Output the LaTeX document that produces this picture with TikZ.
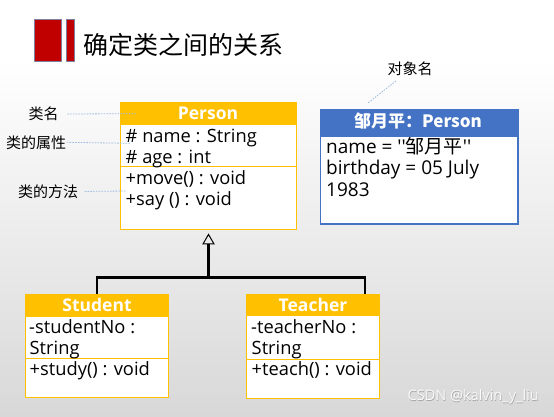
\documentclass[tikz,border=0pt]{standalone}
\usepackage{fontspec}
\newfontfamily\osans{Open Sans}
\newfontfamily\cjk{Noto Sans CJK SC}
\usetikzlibrary{arrows.meta}
\definecolor{umlY}{HTML}{FFC000}
\definecolor{objB}{HTML}{4472C4}
\definecolor{iconR}{HTML}{C00000}
\definecolor{iconE}{HTML}{7F7F9F}
\definecolor{guideB}{HTML}{9DBCE0}
\definecolor{bgBot}{HTML}{D8D8D8}
\tikzset{
  hdr/.style={rectangle, fill=umlY, draw=umlY, line width=1pt, text=white, inner sep=0pt,
    font=\osans\bfseries\fontsize{17.5}{20}\selectfont},
  body/.style={rectangle, draw=umlY, fill=white, line width=1pt, inner sep=0pt},
  txt/.style={anchor=base west, inner sep=0pt, font=\osans\fontsize{18.3}{21}\selectfont},
  lbl/.style={inner sep=0pt, font=\cjk\fontsize{15}{18}\selectfont},
  guide/.style={draw=guideB, line width=0.8pt, dash pattern=on 1.6pt off 1.2pt},
  inh/.style={line width=2.8pt, line join=miter, black}
}
\begin{document}
\begin{tikzpicture}[x=1pt,y=-1pt]
\useasboundingbox (0,0) rectangle (554,416);
% background
\fill[white] (0,0) rectangle (554,60);
\shade[top color=white, bottom color=bgBot] (0,60) rectangle (554,416);
% title icon
\draw[fill=iconR, draw=iconE, line width=0.9pt] (34.5,19.5) rectangle (61.7,61.5);
\draw[fill=iconR, draw=iconE, line width=0.9pt] (66,19.5) rectangle (74,61.5);
\node[anchor=west, inner sep=0pt, font=\cjk\fontsize{25}{29}\selectfont] (title) at (83,45) {确定类之间的关系};

% Person class
\node[hdr, minimum width=176pt, minimum height=22pt] (ph) at (208,113) {Person};
\node[body, minimum width=176pt, minimum height=42.4pt] (pa) at (208,145.5) {};
\node[body, minimum width=176pt, minimum height=63.3pt] (pm) at (208,198.3) {};
\node[txt] (pa1) at (125.5,142.5) {\# name : String};
\node[txt] (pa2) at (125.5,163.5) {\# age : int};
\node[txt] (pm1) at (125.5,184.5) {+move() : void};
\node[txt] (pm2) at (125.5,205.5) {+say () : void};

% labels on the left
\node[lbl] (l1) at (43.5,114) {类名};
\node[lbl] (l2) at (36,142.3) {类的属性};
\node[lbl] (l3) at (48,191.5) {类的方法};
\coordinate (c1) at (137,113.7);
\coordinate (c2) at (130,143.3);
\coordinate (c3) at (126,191);
\draw[guide, shorten <=8.5pt] (l1.east) -- (c1);
\draw[guide, shorten <=0.5pt] (l2.east) -- (c2);
\draw[guide, shorten <=6.5pt] (l3.east) -- (c3);

% object
\node[rectangle, fill=objB, draw=objB, line width=1.2pt, minimum width=197.3pt, minimum height=27.4pt, inner sep=0pt] (oh) at (419.4,123) {};
\node[rectangle, draw=objB, fill=white, line width=1.2pt, minimum width=197.3pt, minimum height=87.3pt, inner sep=0pt] (ob) at (419.4,180.4) {};
\node[inner sep=0pt, text=white, font=\cjk\bfseries\fontsize{17}{20}\selectfont] (ohT) at (418,121.5) {邹月平：Person};
\node[txt, font=\osans\fontsize{19}{22}\selectfont] (ob1) at (326,153) {name = ''{\cjk 邹月平}''};
\node[txt, font=\osans\fontsize{19}{22}\selectfont] (ob2) at (326,174.5) {birthday = 05 July};
\node[txt, font=\osans\fontsize{19}{22}\selectfont] (ob3) at (326,196) {1983};
\node[lbl] (l4) at (410,68.3) {对象名};
\coordinate (c4) at (368.3,102.7);
\draw[guide] ([shift={(-14,5.5)}]l4.south) -- (c4);

% Student class
\node[hdr, minimum width=143.4pt, minimum height=22pt] (sh) at (97,305) {Student};
\node[body, minimum width=143.4pt, minimum height=42.3pt] (sa) at (97,337.15) {};
\node[body, minimum width=143.4pt, minimum height=39pt] (sm) at (97,377.8) {};
\node[txt] (sa1) at (29,333) {-studentNo :};
\node[txt] (sa2) at (29.5,354) {String};
\node[txt] (sm1) at (29.5,375) {+study() : void};

% Teacher class
\node[hdr, minimum width=132.6pt, minimum height=21.4pt] (th) at (313,305) {Teacher};
\node[body, minimum width=132.6pt, minimum height=43.6pt] (ta) at (313,337.5) {};
\node[body, minimum width=132.6pt, minimum height=39pt] (tm) at (313,378.8) {};
\node[txt] (ta1) at (251,333.5) {-teacherNo :};
\node[txt] (ta2) at (251.5,354.5) {String};
\node[txt] (tm1) at (251.5,375.5) {+teach() : void};

% inheritance
\coordinate (j) at (208.5,277.3);
\coordinate (tx) at (365,0);
\draw[inh] (sh.north) |- (j) -| (th.north -| tx);
\draw[inh, -{Triangle[open, length=11pt, width=12.5pt, line width=1pt]}, shorten >=3pt] (j) -- (pm.south -| j);

% watermark
\node[inner sep=0pt, text=gray!70, font=\osans\fontsize{14.5}{17}\selectfont] (wm0) at (473.8,397.6) {CSDN @kalvin\_y\_liu};
\node[inner sep=0pt, text=white!96!gray, font=\osans\fontsize{14.5}{17}\selectfont] (wm) at (473.3,397) {CSDN @kalvin\_y\_liu};
\end{tikzpicture}
\end{document}
